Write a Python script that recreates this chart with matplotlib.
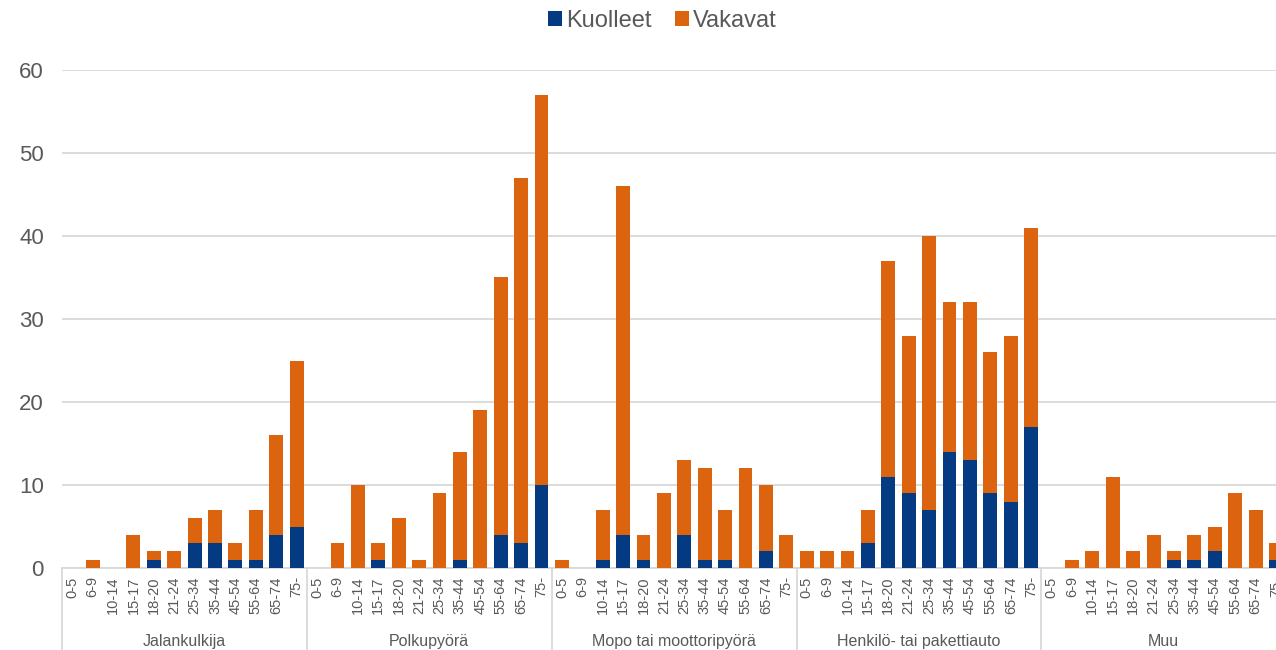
import numpy as np
import matplotlib
matplotlib.use('Agg')
import matplotlib.pyplot as plt

# Ikaryhmat ja kulkutavat
ages = ['0-5', '6-9', '10-14', '15-17', '18-20', '21-24', '25-34', '35-44',
        '45-54', '55-64', '65-74', '75-']
groups = ['Jalankulkija', 'Polkupyörä', 'Mopo tai moottoripyörä',
          'Henkilö- tai pakettiauto', 'Muu']

# Kuolleet per ryhma (12 ikaryhmaa kussakin)
kuolleet_jalankulkija = [0, 0, 0, 0, 1, 0, 3, 3, 1, 1, 4, 5]
kuolleet_polkupyora = [0, 0, 0, 1, 0, 0, 0, 1, 0, 4, 3, 10]
kuolleet_mopo = [0, 0, 1, 4, 1, 0, 4, 1, 1, 0, 2, 0]
kuolleet_auto = [0, 0, 0, 3, 11, 9, 7, 14, 13, 9, 8, 17]
kuolleet_muu = [0, 0, 0, 0, 0, 0, 1, 1, 2, 0, 0, 1]

# Vakavasti loukkaantuneet
vakavat_jalankulkija = [0, 1, 0, 4, 1, 2, 3, 4, 2, 6, 12, 20]
vakavat_polkupyora = [0, 3, 10, 2, 6, 1, 9, 13, 19, 31, 44, 47]
vakavat_mopo = [1, 0, 6, 42, 3, 9, 9, 11, 6, 12, 8, 4]
vakavat_auto = [2, 2, 2, 4, 26, 19, 33, 18, 19, 17, 20, 24]
vakavat_muu = [0, 1, 2, 11, 2, 4, 1, 3, 3, 9, 7, 2]

kuolleet = np.array(kuolleet_jalankulkija + kuolleet_polkupyora + kuolleet_mopo
                    + kuolleet_auto + kuolleet_muu)
vakavat = np.array(vakavat_jalankulkija + vakavat_polkupyora + vakavat_mopo
                   + vakavat_auto + vakavat_muu)

BLUE = '#033A82'
ORANGE = '#DC640E'
GRAY = '#595959'
GRID = '#D9D9D9'
plt.rcParams['font.family'] = ['Liberation Sans', 'DejaVu Sans']

W, H = 1276, 650
fig = plt.figure(figsize=(W / 100, H / 100), dpi=100)
left, right, bottom, top = 62, 1276, 568, 70
ax = fig.add_axes([left / W, (H - bottom) / H, (right - left) / W, (bottom - top) / H])

n = len(kuolleet)
x = np.arange(n)
bw = 0.68
ax.bar(x, kuolleet, bw, color=BLUE, label='Kuolleet', zorder=3)
ax.bar(x, vakavat, bw, bottom=kuolleet, color=ORANGE, label='Vakavat', zorder=3)

ax.set_xlim(-0.5, 58.86)
ax.set_ylim(0, 60)
ax.set_yticks(range(0, 61, 10))
ax.yaxis.grid(True, color=GRID, linewidth=1.3)
ax.set_axisbelow(True)
for s in ['top', 'right', 'left']:
    ax.spines[s].set_visible(False)
ax.spines['bottom'].set_color(GRID)
ax.spines['bottom'].set_linewidth(1.3)
ax.tick_params(axis='y', length=0, labelsize=16, labelcolor=GRAY, pad=13)
ax.tick_params(axis='x', length=0, pad=6)

ax.set_xticks(x)
ax.set_xticklabels(ages * len(groups), rotation=90, fontsize=10.5,
                   color=GRAY, ha='center', va='top')

# ryhmien erottimet ja nimet
na = len(ages)
for g, name in enumerate(groups):
    xb = g * na - 0.5
    ax.plot([xb, xb], [0, -10], color=GRID, lw=1.3, clip_on=False)
    ax.text(g * na + (na - 1) / 2, -8.8, name, ha='center', va='center',
            fontsize=11.5, color=GRAY)

leg = fig.legend(loc='upper center', bbox_to_anchor=(0.519, 1.018), ncol=2,
                 frameon=False, fontsize=17, handlelength=0.6, handleheight=0.6,
                 handletextpad=0.15, columnspacing=1.0, labelcolor=GRAY)

fig.savefig('out.png', dpi=100)
